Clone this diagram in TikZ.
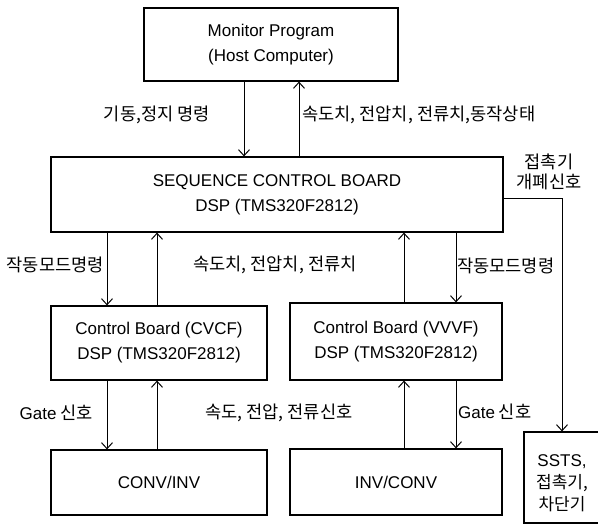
\documentclass[tikz,border=0pt]{standalone}
\usepackage{fontspec}
\setmainfont{Liberation Sans}
\newfontfamily\kr{Noto Sans CJK KR}
\usetikzlibrary{arrows.meta}
\newcommand\diagfs{\fontsize{17}{25}\selectfont}
\newcommand\diagfss{\fontsize{17}{22}\selectfont}
\newcommand\diagfsl{\fontsize{17.6}{20}\selectfont}
\newcommand\gatetxt{{\fontspec{Liberation Sans}\fontsize{17}{20}\selectfont Gate} 신호}
\begin{document}
\begin{tikzpicture}[x=1pt,y=-1pt,
  box/.style={draw, line width=1.2pt, inner sep=0pt, align=center, font=\diagfs},
  arr/.style={line width=1pt, -{Straight Barb[length=6pt,width=11pt]}},
  lbl/.style={inner sep=0pt, font=\diagfsl\kr}]
\useasboundingbox (0,0) rectangle (598,525);
% boxes
\node[box, minimum width=254pt, minimum height=73pt] (mon) at (271,44.5) {Monitor Program\\(Host Computer)};
\node[box, minimum width=452pt, minimum height=75pt] (seq) at (277,194.5) {SEQUENCE CONTROL BOARD\\DSP (TMS320F2812)};
\node[box, minimum width=216pt, minimum height=74pt] (cvcf) at (159,343) {Control Board (CVCF)\\DSP (TMS320F2812)};
\node[box, minimum width=212pt, minimum height=77pt] (vvvf) at (396,341.5) {Control Board (VVVF)\\DSP (TMS320F2812)};
\node[box, minimum width=216pt, minimum height=65pt] (conv) at (159,482.5) {CONV/INV};
\node[box, minimum width=212pt, minimum height=66pt] (inv) at (396,482) {INV/CONV};
\node[box, minimum width=76pt, minimum height=91pt] (ssts) at (562,477.5) {};
\node[inner sep=0pt, align=center, font=\diagfss] (sststxt) at (562,483) {SSTS,\\{\kr 접촉기,}\\{\kr 차단기}};
% x positions of connectors
\coordinate (xa) at (244,0);
\coordinate (xb) at (299,0);
\coordinate (xc) at (107,0);
\coordinate (xd) at (157,0);
\coordinate (xe) at (404,0);
\coordinate (xf) at (456,0);
\coordinate (yg) at (0,198);
% connectors
\draw[arr] (mon.south -| xa) -- (seq.north -| xa);
\draw[arr] (seq.north -| xb) -- (mon.south -| xb);
\draw[arr] (seq.south -| xc) -- (cvcf.north -| xc);
\draw[arr] (cvcf.north -| xd) -- (seq.south -| xd);
\draw[arr] (vvvf.north -| xe) -- (seq.south -| xe);
\draw[arr] (seq.south -| xf) -- (vvvf.north -| xf);
\draw[arr] (cvcf.south -| xc) -- (conv.north -| xc);
\draw[arr] (conv.north -| xd) -- (cvcf.south -| xd);
\draw[arr] (inv.north -| xe) -- (vvvf.south -| xe);
\draw[arr] (vvvf.south -| xf) -- (inv.north -| xf);
\draw[arr] (seq.east |- yg) -| (ssts.north);
% labels
\node[lbl, anchor=east] (l1) at (210,115) {기동,정지 명령};
\node[lbl, anchor=west] (l2) at (302,115) {속도치, 전압치, 전류치,동작상태};
\node[lbl, anchor=east] (l3) at (104,265) {작동모드명령};
\node[lbl, anchor=west] (l4) at (193,265) {속도치, 전압치, 전류치};
\node[lbl, anchor=west] (l5) at (457,266) {작동모드명령};
\node[lbl, anchor=east] (l6) at (93,413) {\gatetxt};
\node[lbl, anchor=west] (l7) at (205,413) {속도, 전압, 전류신호};
\node[lbl, anchor=west] (l8) at (458,412) {\gatetxt};
\node[lbl, align=center] (l9) at (549,172) {접촉기\\개폐신호};
\end{tikzpicture}
\end{document}
